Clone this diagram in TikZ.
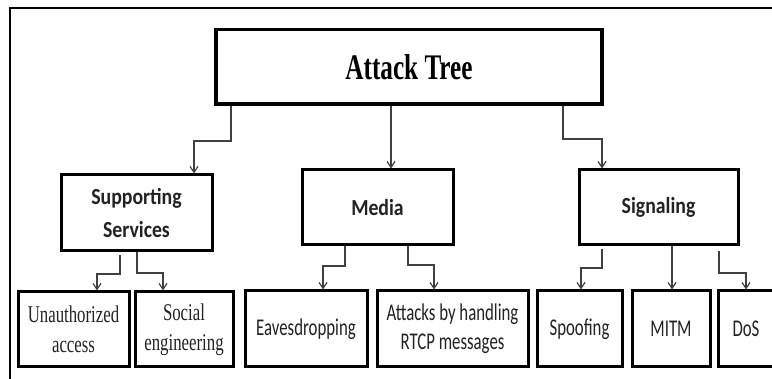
\documentclass[tikz,border=0pt]{standalone}
\usepackage{fontspec}
\usetikzlibrary{arrows.meta}
\newfontfamily\serifcond{Liberation Serif}[FakeStretch=0.70]
\newfontfamily\carlcond{Carlito}[FakeStretch=0.70]
\newfontfamily\carlbold{Carlito}[FakeStretch=0.86]
\definecolor{txt}{HTML}{222222}
\definecolor{conncol}{HTML}{404040}
\tikzset{
  box/.style={draw=black, line width=3pt, rectangle, inner sep=0pt, align=center, text=txt},
  conn/.style={draw=conncol, line width=1.3pt, -{Straight Barb[length=6pt,width=8pt,line width=1.2pt]}},
  leafserif/.style={box, font=\serifcond\fontsize{24}{30}\selectfont},
  leafsans/.style={box, font=\carlcond\fontsize{24}{29}\selectfont},
  midbox/.style={box, font=\carlbold\bfseries\fontsize{23}{34}\selectfont},
}
\begin{document}
\begin{tikzpicture}[x=1pt,y=-1pt]
\useasboundingbox (0,0) rectangle (772,379);
\clip (0,0) rectangle (772,379);
% frame
\draw[line width=2pt] (10,380) -- (10,8.5) -- (775,8.5);
% top
\node[box, line width=3.5pt, minimum width=386pt, minimum height=74.5pt,
      font=\serifcond\bfseries\fontsize{36}{40}\selectfont, text=black] (top) at (409,66.75) {Attack Tree};
% middle level
\node[midbox, minimum width=151pt, minimum height=76pt] (ss) at (136.5,213) {Supporting\\Services};
\node[midbox, minimum width=151pt, minimum height=75pt] (media) at (377.5,207.5) {Media};
\node[midbox, minimum width=159pt, minimum height=75pt] (sig) at (658.5,207.5) {Signaling};
% leaves
\node[leafserif, minimum width=111pt, minimum height=75pt] (ua) at (73.5,329.5) {Unauthorized\\access};
\node[leafserif, minimum width=98pt, minimum height=75pt] (se) at (184,329.5) {Social\\engineering};
\node[leafsans, minimum width=122pt, minimum height=76pt] (ea) at (306,329) {Eavesdropping};
\node[leafsans, minimum width=151pt, minimum height=76pt] (rtcp) at (452.5,329) {Attacks by handling\\RTCP messages};
\node[leafsans, minimum width=85pt, minimum height=76pt] (sp) at (579.5,329) {Spoofing};
\node[leafsans, minimum width=78pt, minimum height=76pt] (mitm) at (671,329) {MITM};
\node[leafsans, minimum width=56pt, minimum height=76pt] (dos) at (746,329) {DoS};
% connectors
\draw[conn] (231,0 |- top.south) |- (194,141) -- (194,0 |- ss.north);
\draw[conn] (391,0 |- top.south) -- (391,0 |- media.north);
\draw[conn] (563,0 |- top.south) |- (602,139) -- (602,0 |- sig.north);
\draw[conn, shorten <=3pt] (120,0 |- ss.south) |- (97,274) -- (97,0 |- ua.north);
\draw[conn] (137,0 |- ss.south) |- (163,273) -- (163,0 |- se.north);
\draw[conn] (345,0 |- media.south) |- (323,266) -- (323,0 |- ea.north);
\draw[conn] (408,0 |- media.south) |- (434,265) -- (434,0 |- rtcp.north);
\draw[conn, shorten <=3pt] (602,0 |- sig.south) |- (581,268) -- (581,0 |- sp.north);
\draw[conn] (672,0 |- sig.south) -- (672,0 |- mitm.north);
\draw[conn, shorten <=5pt] (719,0 |- sig.south) |- (746,273) -- (746,0 |- dos.north);
\end{tikzpicture}
\end{document}
